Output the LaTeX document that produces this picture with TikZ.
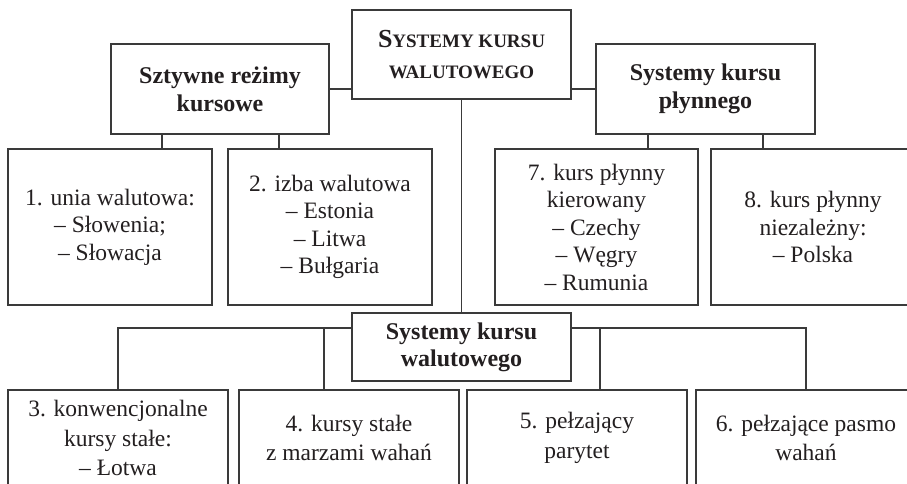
\documentclass[tikz,border=0pt]{standalone}
\usepackage{fontspec}
\setmainfont{Liberation Serif}
\usetikzlibrary{calc}
\definecolor{ink}{HTML}{231F20}
\definecolor{edge}{HTML}{3A3A3A}
\begin{document}
\begin{tikzpicture}[x=1pt,y=-1pt,
  box/.style={draw=edge,line width=1.1pt,rectangle,inner sep=0pt,align=center,text=ink},
  body/.style={box,font=\fontsize{23.5}{27.5}\selectfont},
  low/.style={box,minimum width=220pt,minimum height=96pt,font=\fontsize{23.5}{29.5}\selectfont},
  head/.style={box,font=\fontsize{24}{28}\selectfont\bfseries},
  conn/.style={draw=edge,line width=1.1pt}]
\clip (0,0) rectangle (907,484);
\fill[white] (0,0) rectangle (907,484);
% top level
\node[box,minimum width=219pt,minimum height=89pt,font=\fontsize{19}{31}\selectfont\bfseries] (top) at (461.5,54.5)
  {{\fontsize{26}{31}\selectfont S}YSTEMY KURSU\\WALUTOWEGO};
\node[head,minimum width=218pt,minimum height=90pt] (szt) at (220,89) {Sztywne reżimy\\kursowe};
\node[head,minimum width=219pt,minimum height=90pt] (ply) at (705.5,89) {Systemy kursu\\płynnego};
% second row
\node[body,minimum width=204pt,minimum height=156pt] (b1) at (110,227) {1. unia walutowa:\\– Słowenia;\\– Słowacja};
\node[body,minimum width=204pt,minimum height=156pt] (b2) at (330,227) {2. izba walutowa\\– Estonia\\– Litwa\\– Bułgaria};
\node[body,minimum width=203pt,minimum height=156pt] (b7) at (596.5,227) {7. kurs płynny\\kierowany\\– Czechy\\– Węgry\\– Rumunia};
\node[body,minimum width=204pt,minimum height=156pt] (b8) at (813,227) {8. kurs płynny\\niezależny:\\– Polska};
% middle
\node[head,minimum width=219pt,minimum height=68pt,font=\fontsize{24}{27}\selectfont\bfseries] (mid) at (461.5,347) {Systemy kursu\\walutowego};
% bottom row
\node[low] (b3) at (118,438) {3. konwencjonalne\\kursy stałe:\\– Łotwa};
\node[low] (b4) at (349,438) {4. kursy stałe\\z marzami wahań};
\node[low] (b5) at (577,438) {5. pełzający\\parytet};
\node[low] (b6) at (806,438) {6. pełzające pasmo\\wahań};
% connectors
\draw[conn] (szt.east) -- (szt.east -| top.west);
\draw[conn] (ply.west) -- (ply.west -| top.east);
\draw[conn] (top.south) -- (mid.north);
\draw[conn] ([xshift=-58pt]szt.south) -- ([xshift=-58pt]szt.south |- b1.north);
\draw[conn] ([xshift=59pt]szt.south) -- ([xshift=59pt]szt.south |- b2.north);
\draw[conn] ([xshift=-57.5pt]ply.south) -- ([xshift=-57.5pt]ply.south |- b7.north);
\draw[conn] ([xshift=57.5pt]ply.south) -- ([xshift=57.5pt]ply.south |- b8.north);
\draw[conn] ([yshift=19pt]mid.west) -| (b3.north);
\draw[conn] ([yshift=19pt]mid.west) -| ([xshift=-25pt]b4.north);
\draw[conn] ([yshift=19pt]mid.east) -| (b6.north);
\draw[conn] ([yshift=19pt]mid.east) -| ([xshift=23pt]b5.north);
\end{tikzpicture}
\end{document}
